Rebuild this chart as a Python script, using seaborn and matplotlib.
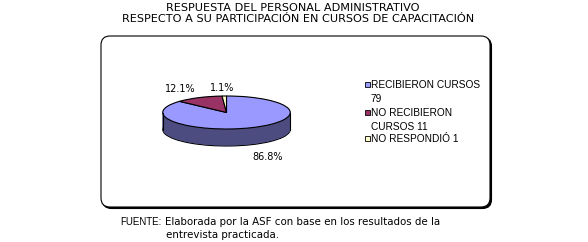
import numpy as np
import matplotlib
matplotlib.use("Agg")
import matplotlib.pyplot as plt
import seaborn as sns
from matplotlib.patches import FancyBboxPatch, Rectangle

# ---- data ----
categories = ["RECIBIERON CURSOS", "NO RECIBIERON CURSOS", "NO RESPONDIÓ"]
legend_lines = [["RECIBIERON CURSOS", "79"], ["NO RECIBIERON", "CURSOS 11"], ["NO RESPONDIÓ 1"]]
counts = [79, 11, 1]
top_colors = ["#9999FF", "#993366", "#FFFFCC"]
side_colors = ["#4C4C80", "#4D1A33", "#808066"]
title_lines = ["RESPUESTA DEL PERSONAL ADMINISTRATIVO",
               "RESPECTO A SU PARTICIPACIÓN EN CURSOS DE CAPACITACIÓN"]
source_label = "FUENTE:"
source_lines = ["Elaborada por la ASF con base en los resultados de la",
                "entrevista practicada."]

sns.set_theme(style="white")
plt.rcParams['font.family'] = ['DejaVu Sans']
plt.rcParams['text.color'] = 'black'
WIDE = ['DejaVu Sans']
NARROW = ['Liberation Sans', 'DejaVu Sans']

W, H = 588, 242
fig = plt.figure(figsize=(W / 100, H / 100), dpi=100)

# background axes in pixel coordinates
bg = fig.add_axes([0, 0, 1, 1])
bg.set_xlim(0, W)
bg.set_ylim(H, 0)
bg.axis("off")

# frame with shadow
shadow = FancyBboxPatch((102.5, 37.5), 389, 171, boxstyle="round,pad=0,rounding_size=9",
                        facecolor="black", edgecolor="black", lw=0.8)
frame = FancyBboxPatch((101, 36), 389, 171, boxstyle="round,pad=0,rounding_size=9",
                       facecolor="white", edgecolor="black", lw=0.8)
bg.add_patch(shadow)
bg.add_patch(frame)

bg.text(293, 10.8, title_lines[0], ha="center", va="baseline", fontsize=8.1, family=WIDE, color="black")
bg.text(298.5, 22, title_lines[1], ha="center", va="baseline", fontsize=8.1, family=WIDE, color="black")

bg.text(120, 222, source_label, ha="left", va="center", fontsize=7.0, family=NARROW, color="black")
bg.text(165, 222, source_lines[0], ha="left", va="center", fontsize=7.4, family=WIDE, color="black")
bg.text(166, 235, source_lines[1], ha="left", va="center", fontsize=7.4, family=WIDE, color="black")

# legend (manual)
row_y = [[85, 99], [113, 127], [139]]
for col, lines, ys in zip(top_colors, legend_lines, row_y):
    bg.add_patch(Rectangle((365, ys[0] - 2.8), 5, 5, facecolor=col, edgecolor="black", lw=0.6))
    for ln, y in zip(lines, ys):
        bg.text(371, y, ln, ha="left", va="center", fontsize=7.3, family=NARROW, color="black")

# pie axes
ax = fig.add_axes([150 / W, 1 - 165 / H, 153 / W, 85 / H])
ax.patch.set_visible(False)
ppu_y = 16.5
ymax = (112.5 - 80) / ppu_y
ymin = -(165 - 112.5) / ppu_y
depth = 17 / ppu_y

# side (stacked layers)
n = 40
for i, off in enumerate(np.linspace(depth, 0, n)):
    edge = dict(edgecolor="black", linewidth=0.8) if i == 0 else dict(edgecolor="none", linewidth=0)
    ax.pie(counts, colors=side_colors, startangle=90, counterclock=False,
           center=(0, -off), radius=1, wedgeprops=edge, frame=False)
ax.plot([-1, -1], [-depth, 0], color="black", lw=0.8)
ax.plot([1, 1], [-depth, 0], color="black", lw=0.8)
# top
ax.pie(counts, colors=top_colors, startangle=90, counterclock=False,
       center=(0, 0), radius=1, wedgeprops=dict(edgecolor="black", linewidth=0.8))
ax.set_aspect("auto")
ax.set_xlim(-1.2, 1.2)
ax.set_ylim(ymin, ymax)
ax.axis("off")

# percent labels
total = sum(counts)
pcts = [f"{c / total * 100:.1f}%" for c in counts]
label_pos = [(268, 157), (180, 89), (222, 88)]
for p, (x, y) in zip(pcts, label_pos):
    bg.text(x, y, p, ha="center", va="center", fontsize=7, family=WIDE, color="black")

fig.savefig("out.png", dpi=100, facecolor="white")
